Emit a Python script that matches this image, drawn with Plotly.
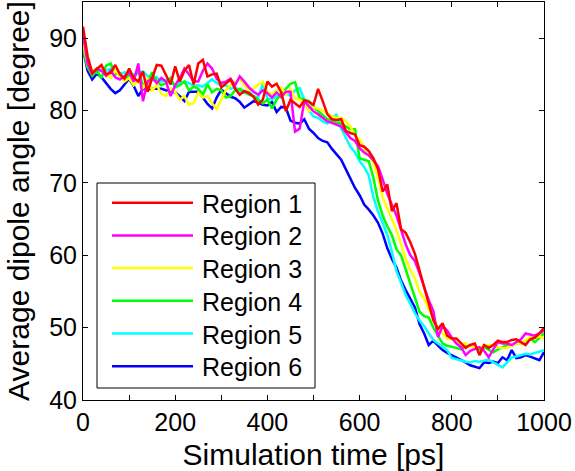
import plotly.graph_objects as go

time_ps = list(range(0, 1001, 10))

region1 = [91.6, 87.5, 85.2, 85.8, 86.3, 85.0, 85.2, 86.3, 85.0, 84.4,
           85.8, 84.5, 84.0, 85.4, 82.6, 84.5, 86.3, 86.2, 85.0, 83.6,
           86.1, 84.0, 85.5, 86.3, 83.6, 86.5, 87.0, 84.7, 85.0, 85.1,
           83.2, 83.8, 84.3, 83.0, 82.2, 82.7, 82.4, 81.9, 80.8, 81.5,
           84.0, 83.3, 83.7, 82.5, 79.9, 81.5, 81.0, 80.5, 81.4, 81.2,
           80.8, 83.0, 81.3, 79.5, 78.8, 78.7, 78.8, 77.2, 76.9, 76.7,
           75.2, 75.0, 74.4, 73.4, 71.9, 68.8, 69.8, 66.1, 67.2, 63.6,
           63.1, 61.8, 60.2, 57.8, 55.5, 53.2, 51.0, 49.8, 50.6, 48.9,
           48.5, 48.5, 47.8, 47.2, 47.6, 47.8, 46.2, 47.6, 47.2, 47.6,
           48.2, 48.0, 48.0, 48.3, 48.4, 48.0, 47.6, 48.4, 48.6, 49.2,
           50.0]

region2 = [90.5, 86.5, 85.1, 85.8, 85.5, 84.8, 85.5, 84.6, 84.3, 84.8,
           85.3, 84.0, 86.5, 81.3, 84.0, 84.5, 83.8, 84.5, 84.0, 82.0,
           83.5, 84.5, 85.8, 85.0, 84.0, 84.0, 85.5, 86.5, 85.8, 84.4,
           83.8, 84.0, 84.4, 83.5, 84.7, 84.0, 83.2, 82.6, 82.2, 82.8,
           82.4, 81.8, 82.5, 81.9, 82.6, 82.6, 77.1, 77.5, 81.3, 80.6,
           79.9, 79.5, 79.0, 78.5, 78.3, 78.0, 77.8, 77.0, 76.2, 75.8,
           74.8, 74.2, 73.8, 73.1, 72.3, 70.5, 68.5, 67.0, 65.5, 63.5,
           61.5, 60.0, 59.2, 57.5, 55.5, 53.8, 52.3, 48.7, 50.2, 49.6,
           48.6, 47.8, 47.3, 46.2, 46.8, 47.0, 47.3, 46.8, 45.9, 47.0,
           48.0, 47.8, 47.8, 47.6, 48.0, 48.4, 49.2, 49.0, 48.9, 49.2,
           49.6]

region3 = [89.5, 86.5, 85.5, 85.8, 86.0, 85.0, 84.5, 85.5, 84.8, 84.0,
           84.5, 83.5, 84.2, 83.0, 84.5, 82.8, 83.5, 82.3, 82.0, 83.0,
           82.5, 81.5, 82.0, 80.8, 81.0, 82.5, 81.8, 82.0, 81.0, 80.2,
           81.5, 82.8, 83.5, 84.0, 84.4, 83.5, 82.8, 83.1, 83.6, 84.0,
           82.6, 82.2, 82.8, 83.2, 82.2, 83.0, 81.7, 81.5, 81.0, 79.9,
           80.5, 80.3, 80.0, 79.6, 79.2, 79.0, 79.0, 78.5, 77.8, 76.5,
           76.0, 74.8, 73.8, 72.8, 70.7, 68.0, 66.5, 65.0, 63.5, 61.5,
           59.5, 58.0, 56.8, 55.0, 54.0, 52.5, 51.4, 50.0, 49.3, 48.5,
           48.4, 48.0, 47.8, 47.8, 47.5, 47.3, 47.3, 47.5, 47.6, 47.6,
           47.3, 47.2, 47.2, 47.5, 47.8, 47.8, 48.2, 48.7, 48.6, 48.8,
           48.5]

region4 = [88.5, 86.0, 84.8, 85.5, 84.5, 86.2, 86.5, 85.0, 85.2, 84.2,
           85.0, 84.5, 85.5, 83.5, 84.0, 85.3, 84.0, 83.5, 83.8, 84.5,
           83.2, 83.5, 84.0, 82.8, 83.3, 83.0, 82.2, 83.6, 82.5, 83.0,
           82.8, 81.8, 82.0, 82.8, 83.0, 82.6, 82.2, 82.0, 81.5, 81.0,
           81.5, 80.3, 81.5, 82.4, 83.0, 83.7, 83.9, 81.7, 81.5, 81.3,
           80.5, 79.9, 79.3, 78.8, 78.6, 78.3, 78.2, 77.8, 77.4, 77.4,
           73.4, 73.2, 73.0, 70.7, 67.5, 65.5, 64.0, 62.8, 60.8, 60.0,
           58.0, 56.3, 54.2, 52.2, 51.6, 51.4, 50.0, 48.8, 47.8, 47.5,
           47.4, 47.2, 47.0, 47.5, 47.6, 47.3, 46.9, 47.3, 47.0, 46.6,
           47.0, 47.3, 47.6, 47.5, 47.8, 47.8, 48.2, 48.5, 48.0, 48.6,
           49.2]

region5 = [89.0, 86.0, 85.5, 85.2, 85.6, 85.5, 85.8, 85.4, 85.0, 85.3,
           84.8, 85.0, 85.2, 85.4, 84.8, 84.2, 84.6, 84.0, 84.2, 83.8,
           83.6, 83.8, 84.0, 83.8, 83.4, 83.5, 83.3, 83.8, 84.3, 83.8,
           83.4, 83.5, 83.0, 83.2, 82.8, 82.4, 82.6, 82.0, 81.8, 83.7,
           81.7, 81.5, 82.0, 81.8, 82.5, 82.0, 82.8, 83.1, 81.5, 80.0,
           79.2, 79.0, 78.5, 78.2, 78.8, 79.5, 77.5, 76.2, 75.0, 74.2,
           73.0, 72.2, 71.0, 68.0, 66.0, 64.5, 62.8, 60.5, 57.8, 56.2,
           54.5, 53.3, 52.0, 51.0, 50.2, 49.2, 48.3, 47.8, 47.3, 46.9,
           45.8, 45.6, 45.5, 45.3, 45.2, 45.4, 45.3, 45.5, 45.6, 45.2,
           44.8, 44.5, 45.2, 45.9, 46.0, 46.2, 46.4, 46.3, 46.5, 46.6,
           46.9]

region6 = [88.5, 85.5, 84.3, 85.1, 84.6, 83.8, 83.0, 82.4, 82.8, 83.6,
           84.4, 83.4, 82.0, 83.0, 82.9, 83.0, 83.0, 83.0, 82.8, 82.6,
           82.5, 82.0, 81.3, 82.6, 82.6, 82.6, 81.8, 80.9, 80.3, 81.8,
           82.9, 82.4, 81.9, 81.7, 81.2, 80.4, 80.9, 81.3, 81.1, 80.8,
           80.7, 81.2, 79.8, 80.5, 80.4, 78.6, 78.3, 78.2, 78.8, 77.5,
           76.9, 76.2, 75.8, 75.6, 74.7, 74.0, 73.2, 71.9, 70.5, 69.3,
           68.3, 67.0, 66.3, 65.5, 64.5, 63.0, 61.0, 59.5, 58.3, 56.5,
           55.2, 54.0, 52.8, 50.5, 49.2, 47.6, 48.2, 47.5, 46.9, 46.5,
           46.2, 45.9, 45.5, 45.2, 44.8, 44.6, 44.4, 45.2, 45.1, 45.3,
           45.1, 45.9, 45.5, 46.9, 45.8, 45.9, 46.2, 46.0, 45.8, 45.5,
           46.6]

series_names = ["Region 1", "Region 2", "Region 3", "Region 4", "Region 5", "Region 6"]
series_values = [region1, region2, region3, region4, region5, region6]
series_colors = ["#FF0000", "#FF00FF", "#FFFF00", "#00FF00", "#00FFFF", "#0000FF"]

x_tick_vals = list(range(0, 1001, 100))
x_tick_text = [str(v) if v % 200 == 0 else "" for v in x_tick_vals]
y_tick_vals = [40, 50, 60, 70, 80, 90]

FONT = "Liberation Sans, Arial, sans-serif"

fig = go.Figure()
# draw region 6 first so region 1 lies on top
for name, vals, col in reversed(list(zip(series_names, series_values, series_colors))):
    fig.add_trace(go.Scatter(x=time_ps, y=vals, mode="lines", name=name,
                             line=dict(color=col, width=2.5), showlegend=False))

W, H = 575, 471
L, R, T, B = 83, 31, 2, 71
pw, ph = W - L - R, H - T - B


def px2paper(px, py):
    return (px - L) / pw, (H - B - py) / ph


shapes = []
annotations = []
# legend box
x0, y0 = px2paper(97, 388)
x1, y1 = px2paper(315, 183)
shapes.append(dict(type="rect", xref="paper", yref="paper", x0=x0, y0=y0, x1=x1, y1=y1,
                   line=dict(color="black", width=1), fillcolor="white", layer="above"))
for i, (name, col) in enumerate(zip(series_names, series_colors)):
    cy = 202.7 + i * 32.7
    lx0, ly = px2paper(112, cy)
    lx1, _ = px2paper(193, cy)
    shapes.append(dict(type="line", xref="paper", yref="paper", x0=lx0, x1=lx1, y0=ly, y1=ly,
                       line=dict(color=col, width=2.5), layer="above"))
    tx, ty = px2paper(200, cy + 1)
    annotations.append(dict(xref="paper", yref="paper", x=tx, y=ty, text=name, showarrow=False,
                            xanchor="left", yanchor="middle",
                            font=dict(family=FONT, size=25, color="black")))

fig.update_layout(
    width=W, height=H,
    margin=dict(l=L, r=R, t=T, b=B),
    paper_bgcolor="white", plot_bgcolor="white",
    font=dict(family=FONT, size=25, color="black"),
    shapes=shapes, annotations=annotations,
    showlegend=False,
)
fig.update_xaxes(range=[0, 1000], tickvals=x_tick_vals, ticktext=x_tick_text,
                 ticks="inside", ticklen=5, tickcolor="black", mirror="ticks",
                 showline=True, linecolor="black", linewidth=1,
                 showgrid=False, zeroline=False,
                 title=dict(text="Simulation time [ps]", standoff=9))
fig.update_yaxes(range=[40, 95], tickvals=y_tick_vals,
                 ticks="inside", ticklen=5, tickcolor="black", mirror="ticks",
                 showline=True, linecolor="black", linewidth=1,
                 showgrid=False, zeroline=False,
                 title=dict(text="Average dipole angle [degree]", standoff=10))

fig.write_html("out.html")
